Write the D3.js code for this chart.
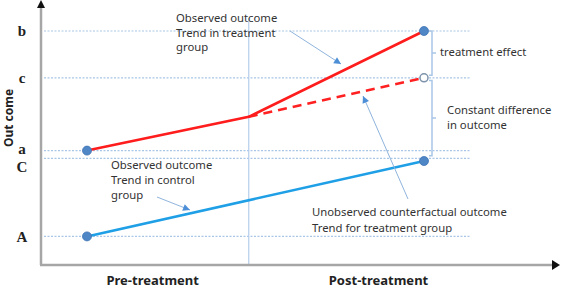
<!DOCTYPE html>
<html><head><meta charset="utf-8">
<script src="https://cdn.jsdelivr.net/npm/d3@7"></script>
<style>html,body{margin:0;padding:0;background:#fff;overflow:hidden}</style>
</head><body>
<svg id="c" width="565" height="288"></svg>
<script>
// ---- data ----
const yLevelLabels = ["A", "C", "a", "c", "b"];
const yLevelValues = [11, 41, 44, 72, 90];
const xLabels = ["Pre-treatment", "Post-treatment"];
const xLabelTimes = [0.195, 0.865];
const treatTimes = [0, 0.48, 1];
const treatValues = [44, 57, 90];
const counterTimes = [0.48, 1];
const counterValues = [57, 72];
const controlTimes = [0, 1];
const controlValues = [11, 40];
const treatmentTime = 0.48;

const svg = d3.select("#c");
const x = d3.scaleLinear().domain([0, 1]).range([87, 424]);
const y = d3.scaleLinear().domain([0, 100]).range([265, 5]);

const axisX = 41, axisY = 265;
const font = "'Noto Sans', 'DejaVu Sans', sans-serif";

// dotted reference lines
yLevelValues.forEach(v => {
  svg.append("line").attr("x1", axisX + 3).attr("x2", x(1.136))
    .attr("y1", y(v)).attr("y2", y(v))
    .attr("stroke", "#a9c6e6").attr("stroke-width", 1.2).attr("stroke-dasharray", "2,1.5");
});

// treatment vertical line
svg.append("line").attr("x1", x(treatmentTime)).attr("x2", x(treatmentTime))
  .attr("y1", 18).attr("y2", axisY).attr("stroke", "#b4cdea").attr("stroke-width", 1.2);

// axes
svg.append("line").attr("x1", axisX).attr("x2", axisX).attr("y1", 8).attr("y2", axisY)
  .attr("stroke", "#a6a6a6").attr("stroke-width", 2.5);
svg.append("line").attr("x1", axisX - 1).attr("x2", 553).attr("y1", axisY).attr("y2", axisY)
  .attr("stroke", "#a6a6a6").attr("stroke-width", 2.5);
svg.append("path").attr("d", `M${axisX - 4},8 L${axisX + 4},8 L${axisX},0 Z`).attr("fill", "#111");
svg.append("path").attr("d", `M552,${axisY - 5} L560,${axisY} L552,${axisY + 5} Z`).attr("fill", "#111");

// y level labels
const labelOffsets = {A: 0, C: 8, a: -2, c: 0, b: 0};
yLevelLabels.forEach((l, i) => {
  svg.append("text").attr("x", 22).attr("y", y(yLevelValues[i]) + labelOffsets[l])
    .attr("dy", "0.35em").attr("text-anchor", "middle")
    .attr("font-family", "'Liberation Serif', 'DejaVu Serif', serif")
    .attr("font-weight", "bold").attr("font-size", 15).attr("fill", "#222").text(l);
});

// y-axis title
svg.append("text").attr("transform", "translate(9,118) rotate(-90)")
  .attr("text-anchor", "middle").attr("dy", "0.35em")
  .attr("font-family", font).attr("font-weight", "bold").attr("font-size", 12)
  .attr("fill", "#222").text("Out come");

// x labels
xLabels.forEach((l, i) => {
  svg.append("text").attr("x", x(xLabelTimes[i])).attr("y", 284.5)
    .attr("text-anchor", "middle").attr("font-family", font)
    .attr("font-weight", "bold").attr("font-size", 13).attr("fill", "#222").text(l);
});

// lines
const line = d3.line().x(d => x(d[0])).y(d => y(d[1]));
svg.append("path").attr("d", line(d3.zip(controlTimes, controlValues)))
  .attr("fill", "none").attr("stroke", "#1e9fe6").attr("stroke-width", 2.6);
svg.append("path").attr("d", line(d3.zip(counterTimes, counterValues)))
  .attr("fill", "none").attr("stroke", "#ff2121").attr("stroke-width", 2.6)
  .attr("stroke-dasharray", "9,6");
svg.append("path").attr("d", line(d3.zip(treatTimes, treatValues)))
  .attr("fill", "none").attr("stroke", "#ff1c1c").attr("stroke-width", 2.6);

// brackets
function bracket(v1, v2) {
  const bx = 432, y1 = y(v1), y2 = y(v2), ym = (y1 + y2) / 2;
  svg.append("path").attr("d", `M${bx - 3},${y1} L${bx},${y1} L${bx},${y2} L${bx - 3},${y2} M${bx},${ym} L${bx + 4},${ym}`)
    .attr("fill", "none").attr("stroke", "#a9c6e6").attr("stroke-width", 1.5);
}
bracket(90, 73);
bracket(71, 42);

// points
[[0, 44], [1, 90], [0, 11], [1, 40]].forEach(p => {
  svg.append("circle").attr("cx", x(p[0])).attr("cy", y(p[1])).attr("r", 4.5)
    .attr("fill", "#4f86c6").attr("stroke", "#3f74b4").attr("stroke-width", 0.8);
});
svg.append("circle").attr("cx", x(1)).attr("cy", y(counterValues[1])).attr("r", 4)
  .attr("fill", "#fff").attr("stroke", "#7e93ab").attr("stroke-width", 1.5);

// annotations
function textBlock(lines, tx, ty, lh) {
  const t = svg.append("text").attr("font-family", font).attr("font-size", 11.3).attr("fill", "#333");
  lines.forEach((s, i) => t.append("tspan").attr("x", tx).attr("y", ty + i * lh).text(s));
}
textBlock(["Observed outcome", "Trend in treatment", "group"], 176, 22, 14.5);
textBlock(["treatment effect"], 440, 56, 14);
textBlock(["Constant difference", "in outcome"], 447, 114, 14.5);
textBlock(["Observed outcome", "Trend in control", "group"], 111, 169, 15);
textBlock(["Unobserved counterfactual outcome", "Trend for treatment group"], 312, 216, 15.5);

function arrow(x1, y1, x2, y2) {
  svg.append("line").attr("x1", x1).attr("y1", y1).attr("x2", x2).attr("y2", y2)
    .attr("stroke", "#8fb4dc").attr("stroke-width", 1);
  const a = Math.atan2(y2 - y1, x2 - x1), L = 7, W = 3.5;
  const bx = x2 - L * Math.cos(a), by = y2 - L * Math.sin(a);
  const px = -Math.sin(a) * W, py = Math.cos(a) * W;
  svg.append("path").attr("d", `M${x2},${y2} L${bx + px},${by + py} L${bx - px},${by - py} Z`)
    .attr("fill", "#4d8fd6");
}
arrow(290, 31, 341, 64);
arrow(157, 197, 190, 210);
arrow(408, 199, 363, 96);
</script>
</body></html>
